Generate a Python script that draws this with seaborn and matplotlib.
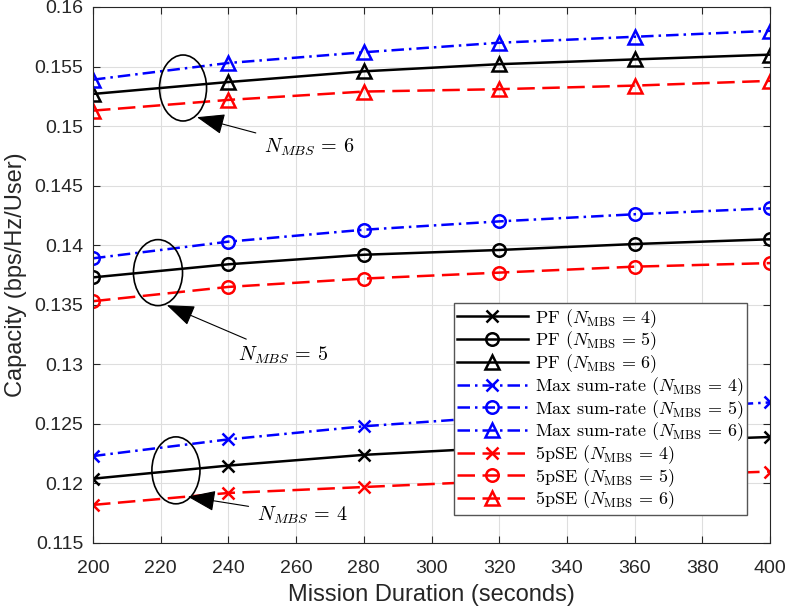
import matplotlib
matplotlib.use("Agg")
import matplotlib.pyplot as plt
import seaborn as sns
import pandas as pd
import numpy as np
from matplotlib.patches import Ellipse
from matplotlib.ticker import FuncFormatter, MultipleLocator

# Data
duration = [200, 240, 280, 320, 360, 400]

pf_4 = [0.1204, 0.1215, 0.1224, 0.1230, 0.1235, 0.1239]
pf_5 = [0.1373, 0.1384, 0.1392, 0.1396, 0.1401, 0.1405]
pf_6 = [0.1527, 0.1537, 0.1546, 0.1552, 0.1556, 0.1560]

msr_4 = [0.1223, 0.1237, 0.1248, 0.1256, 0.1262, 0.1268]
msr_5 = [0.1389, 0.1403, 0.1413, 0.1420, 0.1426, 0.1431]
msr_6 = [0.1539, 0.1553, 0.1562, 0.1570, 0.1575, 0.1580]

pse_4 = [0.1182, 0.1192, 0.1197, 0.1202, 0.1206, 0.1210]
pse_5 = [0.1353, 0.1365, 0.1372, 0.1377, 0.1382, 0.1385]
pse_6 = [0.1513, 0.1522, 0.1529, 0.1531, 0.1534, 0.1538]

n_mbs = [4, 5, 6]

plt.rcParams['mathtext.fontset'] = 'cm'
plt.rcParams['font.family'] = ['Liberation Sans', 'DejaVu Sans']

fig = plt.figure(figsize=(7.88, 6.13), dpi=100)
ax = fig.add_axes([93 / 788, 1 - 543 / 613, (770 - 93) / 788, (543 - 7) / 613])

series = [
    ('PF', [pf_4, pf_5, pf_6], 'black', '-'),
    ('Max sum-rate', [msr_4, msr_5, msr_6], '#0000FF', (0, (5, 2, 1, 2))),
    ('5pSE', [pse_4, pse_5, pse_6], '#FF0000', (0, (7, 3))),
]
markers = ['x', 'o', '^']
msizes = [9, 9, 10]

for name, groups, color, ls in series:
    for n, vals, mk, ms in zip(n_mbs, groups, markers, msizes):
        df = pd.DataFrame({'duration': duration, 'capacity': vals})
        sns.lineplot(data=df, x='duration', y='capacity', ax=ax,
                     color=color, linestyle=ls, linewidth=1.8,
                     marker=mk, markersize=ms, markeredgewidth=1.8,
                     markerfacecolor='none', markeredgecolor=color,
                     label=name + r' ($N_{\mathrm{MBS}}\,=\,%d$)' % n)

ax.set_xlim(200, 400)
ax.set_ylim(0.115, 0.16)
ax.xaxis.set_major_locator(MultipleLocator(20))
ax.yaxis.set_major_locator(MultipleLocator(0.005))
ax.yaxis.set_major_formatter(FuncFormatter(lambda v, p: '%g' % round(v, 4)))
ax.grid(True, color='#dedede', linewidth=0.8)
ax.set_axisbelow(True)
ax.tick_params(direction='in', length=5, width=0.8, top=True, right=True,
               labelsize=14, colors='#262626')
ax.tick_params(axis='x', pad=12)
ax.tick_params(axis='y', pad=7)
for s in ax.spines.values():
    s.set_color('#262626')
    s.set_linewidth(0.8)
ax.set_xlabel('Mission Duration (seconds)', fontsize=17, color='#262626', labelpad=5)
ax.set_ylabel('Capacity (bps/Hz/User)', fontsize=17, color='#262626', labelpad=5)

# Ellipses + arrows marking the N_MBS groups
ellipses = [(226.6, 0.1532, 13.9, 0.00554),
            (219.2, 0.1377, 14.5, 0.00554),
            (224.5, 0.1211, 14.2, 0.00562)]
for cx, cy, w, h in ellipses:
    ax.add_patch(Ellipse((cx, cy), w, h, fill=False, edgecolor='black',
                         linewidth=1.2, zorder=5))

notes = [(6, (230.7, 0.15075), (250.5, 0.14823)),
         (5, (221.8, 0.13497), (242.8, 0.1308)),
         (4, (228.0, 0.11889), (248.4, 0.11736))]
for n, head, txt in notes:
    ax.annotate(r'$N_{MBS}\,=\,%d$' % n, xy=head, xytext=txt,
                fontsize=14.5, ha='left', va='center',
                arrowprops=dict(arrowstyle='-|>,head_length=1.2,head_width=0.45',
                                color='black', lw=0.8, shrinkA=4, shrinkB=0))

leg = ax.legend(loc='lower right', bbox_to_anchor=(747 / 788, 1 - 515 / 613),
                bbox_transform=fig.transFigure, borderaxespad=0,
                prop={'family': 'cmr10', 'size': 13},
                fancybox=False, framealpha=1, edgecolor='#555555',
                handlelength=3.9, handletextpad=0.4, labelspacing=0.0,
                borderpad=0.2)
leg.get_frame().set_linewidth(1.0)

fig.savefig('out.png', dpi=100)
